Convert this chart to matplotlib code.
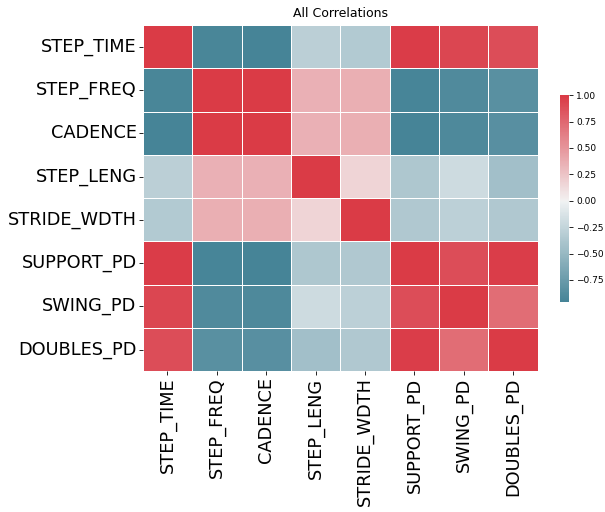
import matplotlib
matplotlib.use("Agg")
import matplotlib.pyplot as plt
import numpy as np
import pandas as pd
import seaborn as sns

features = [
    "STEP_TIME",
    "STEP_FREQ",
    "CADENCE",
    "STEP_LENG",
    "STRIDE_WDTH",
    "SUPPORT_PD",
    "SWING_PD",
    "DOUBLES_PD",
]

# correlation rows, one list per feature
step_time = [1.00, -0.94, -0.96, -0.30, -0.34, 0.98, 0.93, 0.89]
step_freq = [-0.94, 1.00, 0.99, 0.35, 0.36, -0.95, -0.90, -0.84]
cadence = [-0.96, 0.99, 1.00, 0.35, 0.36, -0.96, -0.91, -0.85]
step_leng = [-0.30, 0.35, 0.35, 1.00, 0.16, -0.37, -0.20, -0.44]
stride_wdth = [-0.34, 0.36, 0.36, 0.16, 1.00, -0.36, -0.29, -0.36]
support_pd = [0.98, -0.95, -0.96, -0.37, -0.36, 1.00, 0.89, 0.97]
swing_pd = [0.93, -0.90, -0.91, -0.20, -0.29, 0.89, 1.00, 0.72]
doubles_pd = [0.89, -0.84, -0.85, -0.44, -0.36, 0.97, 0.72, 1.00]

corr = pd.DataFrame(
    np.array([step_time, step_freq, cadence, step_leng,
              stride_wdth, support_pd, swing_pd, doubles_pd]),
    index=features,
    columns=features,
)

fig = plt.figure(figsize=(6.05, 5.12), dpi=100)
ax = fig.add_axes([0.236, 0.275, 0.653, 0.676])
cax = fig.add_axes([0.926, 0.410, 0.015, 0.404])

cmap = sns.diverging_palette(220, 10, as_cmap=True)
sns.heatmap(
    corr,
    cmap=cmap,
    center=0,
    linewidths=0.5,
    linecolor="white",
    ax=ax,
    cbar_ax=cax,
)

ax.set_title("All Correlations", fontsize=9)
ax.tick_params(axis="both", labelsize=12.8, length=3, width=0.6, pad=1.5)
ax.set_xticklabels(features, rotation=90)
ax.set_yticklabels(features, rotation=0)

cbar_ticks = [-0.75, -0.5, -0.25, 0, 0.25, 0.5, 0.75, 1.0]
cax.set_yticks(cbar_ticks)
cax.set_yticklabels([f"{t:.2f}".replace("-", "\u2212") for t in cbar_ticks])
cax.tick_params(labelsize=6.5, length=3, width=0.6, pad=2)
for spine in cax.spines.values():
    spine.set_visible(False)

fig.savefig("out.png", dpi=100)
